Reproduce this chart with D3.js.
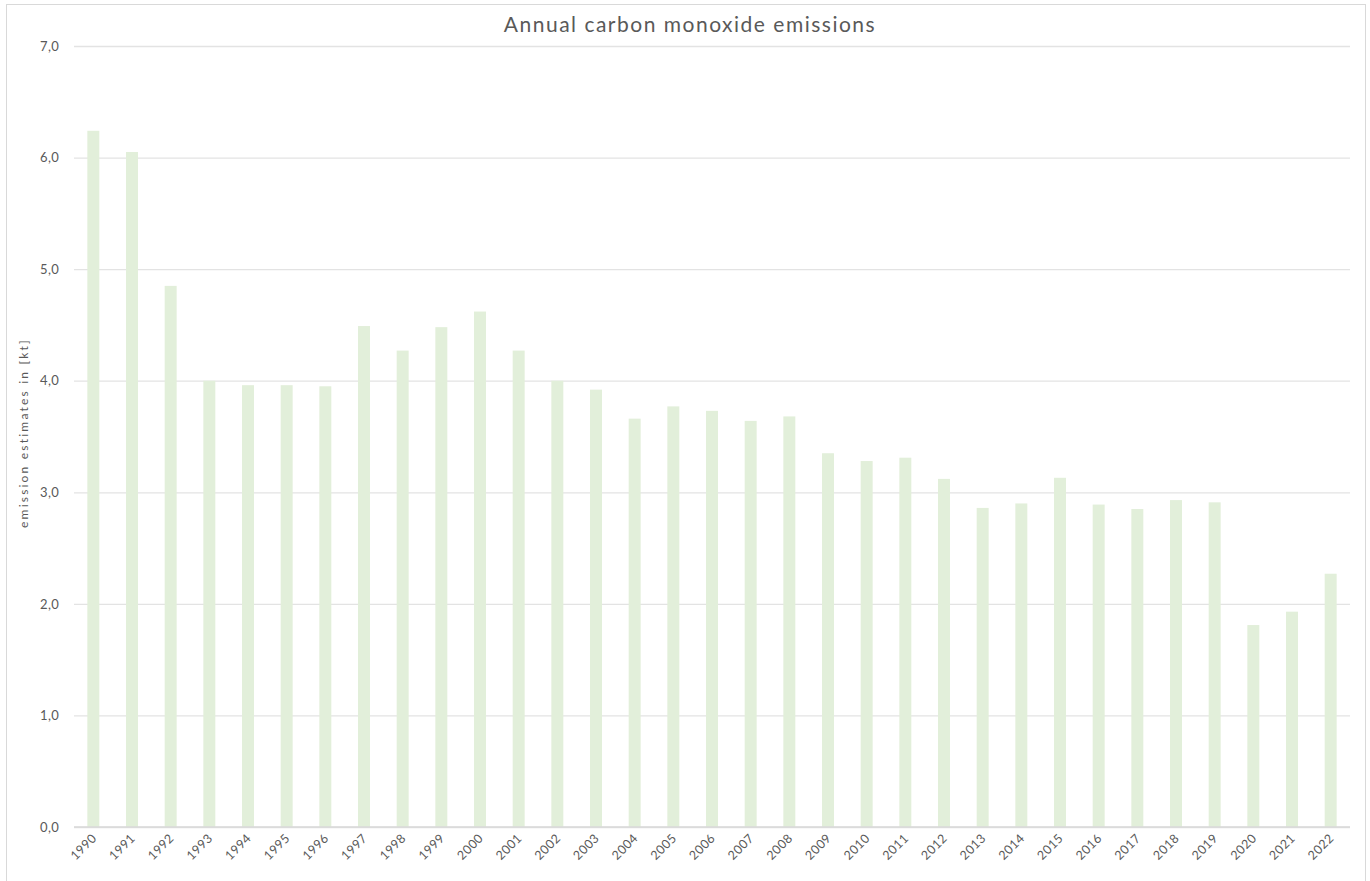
<!DOCTYPE html>
<html>
<head>
<meta charset="utf-8">
<script src="https://cdn.jsdelivr.net/npm/d3@7"></script>
<style>
  body { margin: 0; background: #fff; }
  svg { display: block; }
</style>
</head>
<body>
<div id="chart"></div>
<script>
// Data
const years = ["1990", "1991", "1992", "1993", "1994", "1995", "1996", "1997", "1998", "1999",
  "2000", "2001", "2002", "2003", "2004", "2005", "2006", "2007", "2008", "2009",
  "2010", "2011", "2012", "2013", "2014", "2015", "2016", "2017", "2018", "2019",
  "2020", "2021", "2022"];
const emissions = [6.24, 6.05, 4.85, 4.00, 3.96, 3.96, 3.95, 4.49, 4.27, 4.48,
  4.62, 4.27, 4.00, 3.92, 3.66, 3.77, 3.73, 3.64, 3.68, 3.35,
  3.28, 3.31, 3.12, 2.86, 2.90, 3.13, 2.89, 2.85, 2.93, 2.91,
  1.81, 1.93, 2.27];
const yTicks = [0, 1, 2, 3, 4, 5, 6, 7];

const width = 1370
const height = 881
const margin = { top: 46, right: 20, bottom: 54, left: 74 };
const font = "Lato, 'Open Sans', sans-serif";
const textColor = "#595959";

const svg = d3.select("#chart")
  .append("svg")
  .attr("width", width)
  .attr("height", height)

// Chart area border
svg.append("rect")
  .attr("x", 6.5)
  .attr("y", 4.5)
  .attr("width", 1359)
  .attr("height", 890)
  .attr("fill", "white")
  .attr("stroke", "#d9d9d9")

const x = d3.scaleBand()
  .domain(years)
  .range([margin.left, width - margin.right])
  .paddingInner(0.69)
  .paddingOuter(0.345);

const y = d3.scaleLinear()
  .domain([0, 7])
  .range([height - margin.bottom, margin.top]);

// Gridlines + y labels
const yAxis = svg.append("g")
  .attr("transform", `translate(${margin.left},0)`)
  .call(d3.axisLeft(y)
    .tickValues(yTicks)
    .tickSize(-(width - margin.left - margin.right))
    .tickPadding(15)
    .tickFormat(d => d3.format(".1f")(d).replace(".", ",")));
yAxis.select(".domain").remove();
yAxis.selectAll(".tick line")
  .attr("stroke", "#e3e3e3")
  .attr("stroke-width", 1.3);
yAxis.selectAll(".tick text")
  .attr("fill", textColor)
  .style("font-family", font)
  .style("font-size", "13px")
  .style("letter-spacing", "0.3px");

// Bars
svg.append("g")
  .selectAll("rect")
  .data(emissions)
  .join("rect")
  .attr("x", (d, i) => x(years[i]))
  .attr("y", d => y(d))
  .attr("width", x.bandwidth())
  .attr("height", d => y(0) - y(d))
  .attr("fill", "#e2efda");

// Baseline
svg.append("line")
  .attr("x1", margin.left)
  .attr("x2", width - margin.right)
  .attr("y1", y(0))
  .attr("y2", y(0))
  .attr("stroke", "#d9d9d9")
  .attr("stroke-width", 1.3);

// X labels, rotated
const xAxis = svg.append("g")
  .attr("transform", `translate(0,${y(0)})`)
  .call(d3.axisBottom(x).tickSize(0).tickPadding(0));
xAxis.select(".domain").remove();
xAxis.selectAll(".tick text")
  .attr("fill", textColor)
  .style("font-family", font)
  .style("font-size", "12.5px")
  .style("letter-spacing", "0.4px")
  .attr("text-anchor", "end")
  .attr("dy", "0")
  .attr("transform", "translate(4,12) rotate(-45)");

// Title
svg.append("text")
  .attr("x", 690)
  .attr("y", 32)
  .attr("text-anchor", "middle")
  .attr("fill", textColor)
  .style("font-family", font)
  .style("font-size", "21px")
  .style("letter-spacing", "1.5px")
  .text("Annual carbon monoxide emissions");

// Y axis title
svg.append("text")
  .attr("transform", `translate(28,433) rotate(-90)`)
  .attr("text-anchor", "middle")
  .attr("fill", textColor)
  .style("font-family", font)
  .style("font-size", "12px")
  .style("letter-spacing", "2.2px")
  .text("emission estimates in [kt]");
</script>
</body>
</html>
